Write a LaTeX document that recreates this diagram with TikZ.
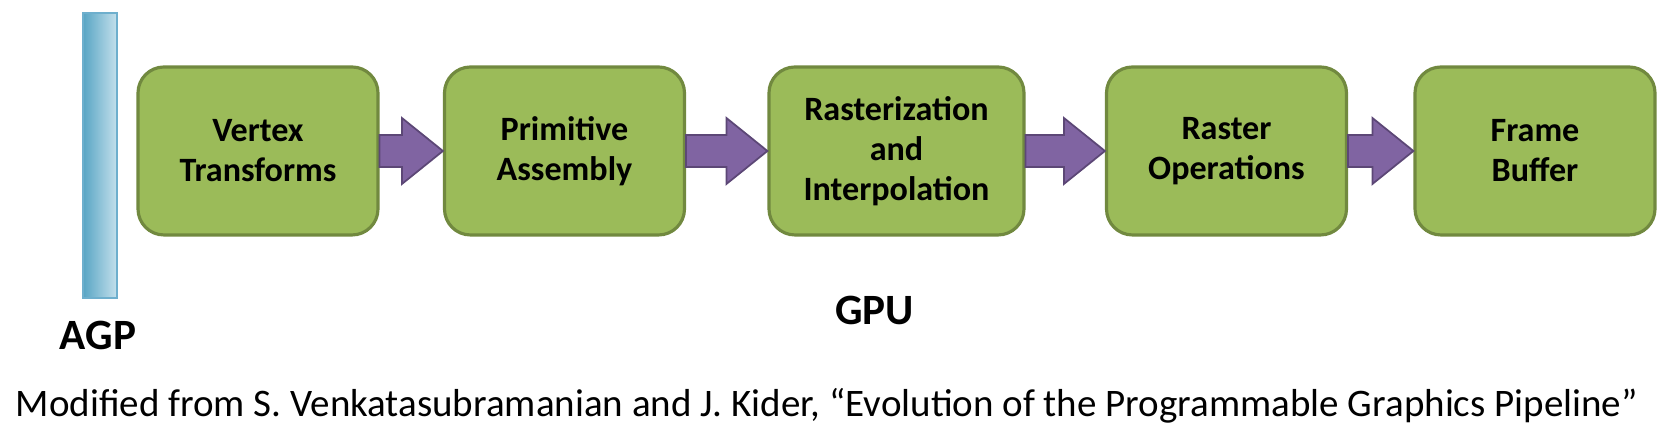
\documentclass[tikz,border=0pt]{standalone}
\usepackage{fontspec}
\setmainfont{Carlito}
\usepackage{tikz}
\usetikzlibrary{calc}
\usepackage{xcolor}
\definecolor{stagegreen}{RGB}{155,187,89}
\definecolor{stageedge}{RGB}{113,137,63}
\definecolor{flowpurple}{RGB}{128,100,162}
\definecolor{flowedge}{RGB}{92,71,118}
\definecolor{busdark}{RGB}{88,165,196}
\definecolor{buslight}{RGB}{196,224,236}
\definecolor{busedge}{RGB}{110,175,205}

\begin{document}
\begin{tikzpicture}[
        stage/.style={rectangle, rounded corners=0.26cm, draw=stageedge, fill=stagegreen, line width=0.9pt, minimum height=1.68cm, minimum width=2.4cm, align=center, font=\fontsize{9.7}{11.4}\selectfont\bfseries},
        flow/.style={draw=flowedge, fill=flowpurple, line width=0.5pt, line join=miter},
        label/.style={font=\fontsize{12.3}{14}\selectfont\bfseries}]

        \useasboundingbox (0,0) rectangle (16.68,4.34);

        % AGP bus
        \node[rectangle, draw=busedge, left color=busdark, right color=buslight, line width=0.6pt, minimum width=0.34cm, minimum height=2.85cm, inner sep=0pt] (agp) at (1.00,2.785) {};
        \node[label] (agplabel) at (0.98,0.99) {AGP};

        % Pipeline stages
        \node[stage] (vt) at (2.58,2.83) {Vertex\\Transforms};
        \node[stage] (pa) at (5.645,2.83) {Primitive\\Assembly};
        \node[stage, minimum width=2.55cm] (ri) at (8.965,2.83) {Rasterization\\and\\Interpolation};
        \node[stage] (ro) at (12.265,2.83) {Raster\\Operations};
        \node[stage] (fb) at (15.35,2.83) {Frame\\Buffer};

        % GPU label
        \node[label] (gpu) at (8.745,1.24) {GPU};

        % Fat arrows
        \foreach \a/\b in {vt/pa, pa/ri, ri/ro, ro/fb}
            \draw[flow] ($(\a.east)+(0,0.16)$) -- ($(\b.west)+(-0.41,0.16)$) -- ($(\b.west)+(-0.41,0.33)$) -- (\b.west)
                -- ($(\b.west)+(-0.41,-0.33)$) -- ($(\b.west)+(-0.41,-0.16)$) -- ($(\a.east)+(0,-0.16)$) -- cycle;

        % Source
        \node[anchor=base west, inner sep=0pt, font=\fontsize{11.1}{13}\selectfont] (src) at (0.15,0.17) {Modified from S. Venkatasubramanian and J. Kider, \textquotedblleft Evolution of the Programmable Graphics Pipeline\textquotedblright};

    \end{tikzpicture}
\end{document}
